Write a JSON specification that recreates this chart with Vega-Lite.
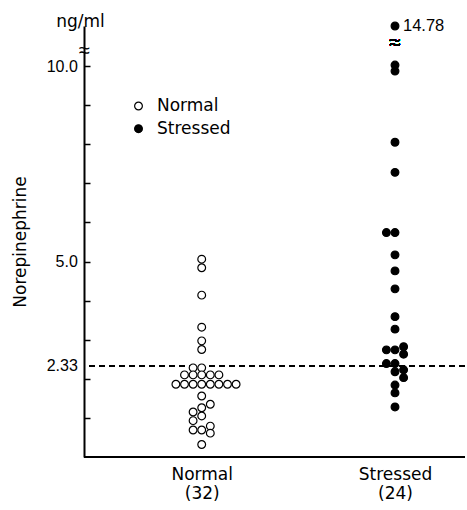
{
  "$schema": "https://vega.github.io/schema/vega-lite/v6.json",
  "width": 381,
  "height": 437,
  "autosize": {"type": "none"},
  "padding": {"left": 84, "top": 20, "right": 2, "bottom": 53},
  "background": "white",
  "title": {"text": "ng/ml", "anchor": "start", "frame": "group", "align": "center", "baseline": "middle", "dx": -3.5, "dy": 20, "offset": -1, "font": "DejaVu Sans", "fontSize": 17, "fontWeight": "normal", "color": "black"},
  "config": {"view": {"stroke": null}},
  "data": {"values": [
    {"group": "Normal", "value": 5.06, "slot": 0},
    {"group": "Normal", "value": 4.84, "slot": 0},
    {"group": "Normal", "value": 4.14, "slot": 0},
    {"group": "Normal", "value": 3.32, "slot": 0},
    {"group": "Normal", "value": 2.97, "slot": 0},
    {"group": "Normal", "value": 2.75, "slot": 0},
    {"group": "Normal", "value": 2.28, "slot": -1},
    {"group": "Normal", "value": 2.28, "slot": 0},
    {"group": "Normal", "value": 2.10, "slot": -2},
    {"group": "Normal", "value": 2.10, "slot": -1},
    {"group": "Normal", "value": 2.10, "slot": 0},
    {"group": "Normal", "value": 2.10, "slot": 1},
    {"group": "Normal", "value": 2.10, "slot": 2},
    {"group": "Normal", "value": 1.86, "slot": -3},
    {"group": "Normal", "value": 1.86, "slot": -2},
    {"group": "Normal", "value": 1.86, "slot": -1},
    {"group": "Normal", "value": 1.86, "slot": 0},
    {"group": "Normal", "value": 1.86, "slot": 1},
    {"group": "Normal", "value": 1.86, "slot": 2},
    {"group": "Normal", "value": 1.86, "slot": 3},
    {"group": "Normal", "value": 1.86, "slot": 4},
    {"group": "Normal", "value": 1.56, "slot": 0},
    {"group": "Normal", "value": 1.35, "slot": 1},
    {"group": "Normal", "value": 1.26, "slot": 0},
    {"group": "Normal", "value": 1.15, "slot": -1},
    {"group": "Normal", "value": 1.05, "slot": 0},
    {"group": "Normal", "value": 0.93, "slot": -1},
    {"group": "Normal", "value": 0.79, "slot": 1},
    {"group": "Normal", "value": 0.69, "slot": -1},
    {"group": "Normal", "value": 0.69, "slot": 0},
    {"group": "Normal", "value": 0.61, "slot": 1},
    {"group": "Normal", "value": 0.32, "slot": 0},
    {"group": "Stressed", "value": 14.78, "slot": 0},
    {"group": "Stressed", "value": 10.11, "slot": 0},
    {"group": "Stressed", "value": 9.87, "slot": 0},
    {"group": "Stressed", "value": 8.05, "slot": 0},
    {"group": "Stressed", "value": 7.28, "slot": 0},
    {"group": "Stressed", "value": 5.74, "slot": -1},
    {"group": "Stressed", "value": 5.74, "slot": 0},
    {"group": "Stressed", "value": 5.17, "slot": 0},
    {"group": "Stressed", "value": 4.76, "slot": 0},
    {"group": "Stressed", "value": 4.30, "slot": 0},
    {"group": "Stressed", "value": 3.59, "slot": 0},
    {"group": "Stressed", "value": 3.27, "slot": 0},
    {"group": "Stressed", "value": 2.82, "slot": 1},
    {"group": "Stressed", "value": 2.74, "slot": -1},
    {"group": "Stressed", "value": 2.74, "slot": 0},
    {"group": "Stressed", "value": 2.63, "slot": 1},
    {"group": "Stressed", "value": 2.39, "slot": -1},
    {"group": "Stressed", "value": 2.39, "slot": 0},
    {"group": "Stressed", "value": 2.23, "slot": 1},
    {"group": "Stressed", "value": 2.18, "slot": 0},
    {"group": "Stressed", "value": 2.03, "slot": 1},
    {"group": "Stressed", "value": 1.84, "slot": 0},
    {"group": "Stressed", "value": 1.64, "slot": 0},
    {"group": "Stressed", "value": 1.28, "slot": 0}
  ]},
  "encoding": {
    "x": {"field": "group", "type": "nominal",
      "scale": {"type": "point", "domain": ["Normal", "Stressed"], "range": [117.7, 311], "padding": 0},
      "axis": {"title": null, "domain": false, "ticks": false, "labelAngle": 0,
        "labelExpr": "datum.value == 'Normal' ? ['Normal', '(32)'] : ['Stressed', '(24)']",
        "labelFont": "DejaVu Sans", "labelFontSize": 17, "labelColor": "black", "labelLineHeight": 19, "labelPadding": 9, "labelBaseline": "top"}},
    "y": {"field": "value", "type": "quantitative",
      "scale": {"domain": [0, 10, 14.78], "range": [437, 46, 6], "nice": false, "zero": false},
      "axis": {"title": "Norepinephrine", "titleFont": "DejaVu Sans", "titleFontSize": 17, "titleFontWeight": "normal", "titleColor": "black",
        "titleX": -59, "titleBaseline": "alphabetic",
        "values": [1, 2, 2.33, 3, 4, 5, 6, 7, 8, 9, 10, 11.9],
        "labelExpr": "datum.value == 10 ? '10.0' : datum.value == 5 ? '5.0' : datum.value == 2.33 ? '2.33' : datum.value > 11 ? '≈' : ''",
        "labelFont": "Liberation Sans", "labelColor": "black",
        "labelAlign": {"condition": {"test": "datum.value > 11", "value": "center"}, "value": "right"},
        "labelPadding": {"condition": {"test": "datum.value > 11", "value": 6}, "value": 12.7},
        "labelFontSize": {"condition": {"test": "datum.value > 11", "value": 20}, "value": 16},
        "tickSize": -6, "tickWidth": 1.5, "tickColor": "black",
        "tickOpacity": {"condition": {"test": "datum.value > 11 || datum.value == 2.33", "value": 0}, "value": 1},
        "domainColor": "black", "domainWidth": 2, "grid": false, "labelOverlap": false}}
  },
  "layer": [
    {"mark": {"type": "rule", "color": "black", "strokeWidth": 1.3, "strokeDash": [6, 4]},
     "encoding": {"x": null, "y": {"datum": 2.33}}},
    {"mark": {"type": "rule", "color": "black", "strokeWidth": 2.2},
     "encoding": {"x": null, "y": {"datum": 0}}},
    {"mark": {"type": "point", "shape": "circle", "filled": true, "stroke": "black", "strokeWidth": 1.2, "size": 60, "opacity": 1},
     "encoding": {
       "xOffset": {"field": "slot", "type": "quantitative", "scale": {"domain": [-1, 1], "range": [-8.6, 8.6]}},
       "fill": {"field": "group", "type": "nominal",
         "scale": {"domain": ["Normal", "Stressed"], "range": ["white", "black"]},
         "legend": {"title": null, "orient": "none", "legendX": 46, "legendY": 77.5, "padding": 0,
           "symbolType": "circle", "symbolSize": 60, "symbolStrokeColor": "black", "symbolStrokeWidth": 1.2,
           "labelFont": "DejaVu Sans", "labelFontSize": 17, "labelColor": "black", "labelOffset": 10, "rowPadding": 4.7}}}},
    {"transform": [{"filter": "datum.value > 14"}],
     "mark": {"type": "text", "align": "left", "baseline": "middle", "dx": 8, "font": "Liberation Sans", "fontSize": 16.5, "color": "black"},
     "encoding": {"text": {"field": "value", "type": "quantitative", "format": ".2f"}}},
    {"mark": {"type": "text", "text": "≈", "fontSize": 20, "font": "Liberation Sans", "color": "black", "fill": "black", "baseline": "middle", "align": "center"},
     "encoding": {"x": {"datum": "Stressed"}, "y": {"datum": 12.75}}}
  ]
}
